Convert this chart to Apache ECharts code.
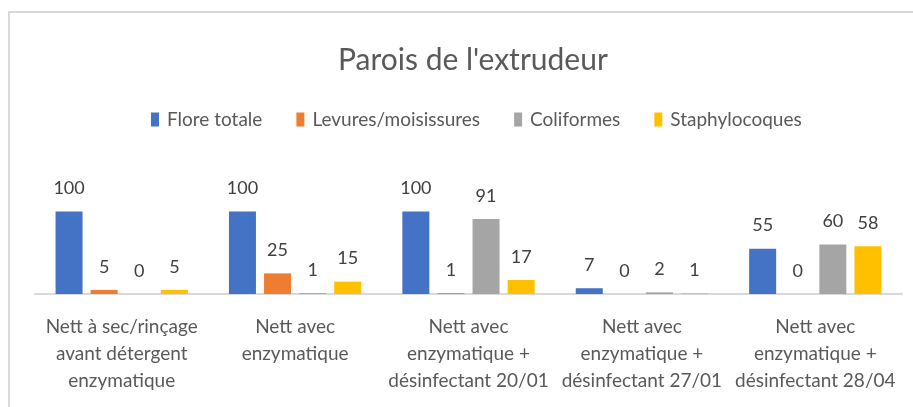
<!DOCTYPE html>
<html>
<head>
<meta charset="utf-8">
<script src="https://cdn.jsdelivr.net/npm/echarts@6/dist/echarts.min.js"></script>
<style>
html,body{margin:0;padding:0;background:#fff;}
#chart{width:913px;height:407px;}
</style>
</head>
<body>
<div id="chart"></div>
<script>
const categories = [
  "Nett à sec/rinçage\navant détergent\nenzymatique",
  "Nett avec\nenzymatique",
  "Nett avec\nenzymatique +\ndésinfectant 20/01",
  "Nett avec\nenzymatique +\ndésinfectant 27/01",
  "Nett avec\nenzymatique +\ndésinfectant 28/04"
];
const seriesNames = ["Flore totale", "Levures/moisissures", "Coliformes", "Staphylocoques"];
const floreTotale = [100, 100, 100, 7, 55];
const levures = [5, 25, 1, 0, 0];
const coliformes = [0, 1, 91, 2, 60];
const staphylocoques = [5, 15, 17, 1, 58];
const colors = ["#4472C4", "#ED7D31", "#A5A5A5", "#FFC000"];
const FONT = "Lato";

const chart = echarts.init(document.getElementById('chart'), null, {renderer: 'canvas'});
const valuesList = [floreTotale, levures, coliformes, staphylocoques];
const series = seriesNames.map((name, i) => ({
  name: name,
  type: 'bar',
  data: valuesList[i],
  barWidth: 27,
  barGap: '30%',
  itemStyle: {color: colors[i]},
  label: {
    show: true,
    position: 'top',
    distance: 14,
    color: '#404040',
    fontSize: 18,
    fontFamily: FONT
  }
}));

chart.setOption({
  animation: false,
  backgroundColor: '#ffffff',
  color: colors,
  graphic: [{
    type: 'rect',
    shape: {x: 9, y: 12, width: 1000, height: 600},
    style: {fill: 'none', stroke: '#d9d9d9', lineWidth: 2},
    silent: true
  }],
  title: {
    text: "Parois de l'extrudeur",
    left: 333,
    top: 40,
    textStyle: {fontFamily: FONT, fontSize: 30, fontWeight: 'normal', color: '#595959'}
  },
  legend: {
    data: seriesNames,
    top: 105,
    left: 146,
    itemWidth: 8,
    itemHeight: 14,
    itemGap: 34,
    icon: 'rect',
    textStyle: {fontFamily: FONT, fontSize: 19, color: '#595959', padding: [0, 0, 0, 3]}
  },
  grid: {left: 35, right: 11, top: 195, bottom: 113, containLabel: false},
  xAxis: {
    type: 'category',
    data: categories,
    axisLine: {lineStyle: {color: '#d9d9d9', width: 2}},
    axisTick: {show: false},
    axisLabel: {interval: 0, margin: 19, fontFamily: FONT, fontSize: 19, color: '#595959', lineHeight: 27}
  },
  yAxis: {
    type: 'value',
    min: 0,
    max: 120,
    show: false,
    splitLine: {show: false}
  },
  series: series
});
</script>
</body>
</html>
